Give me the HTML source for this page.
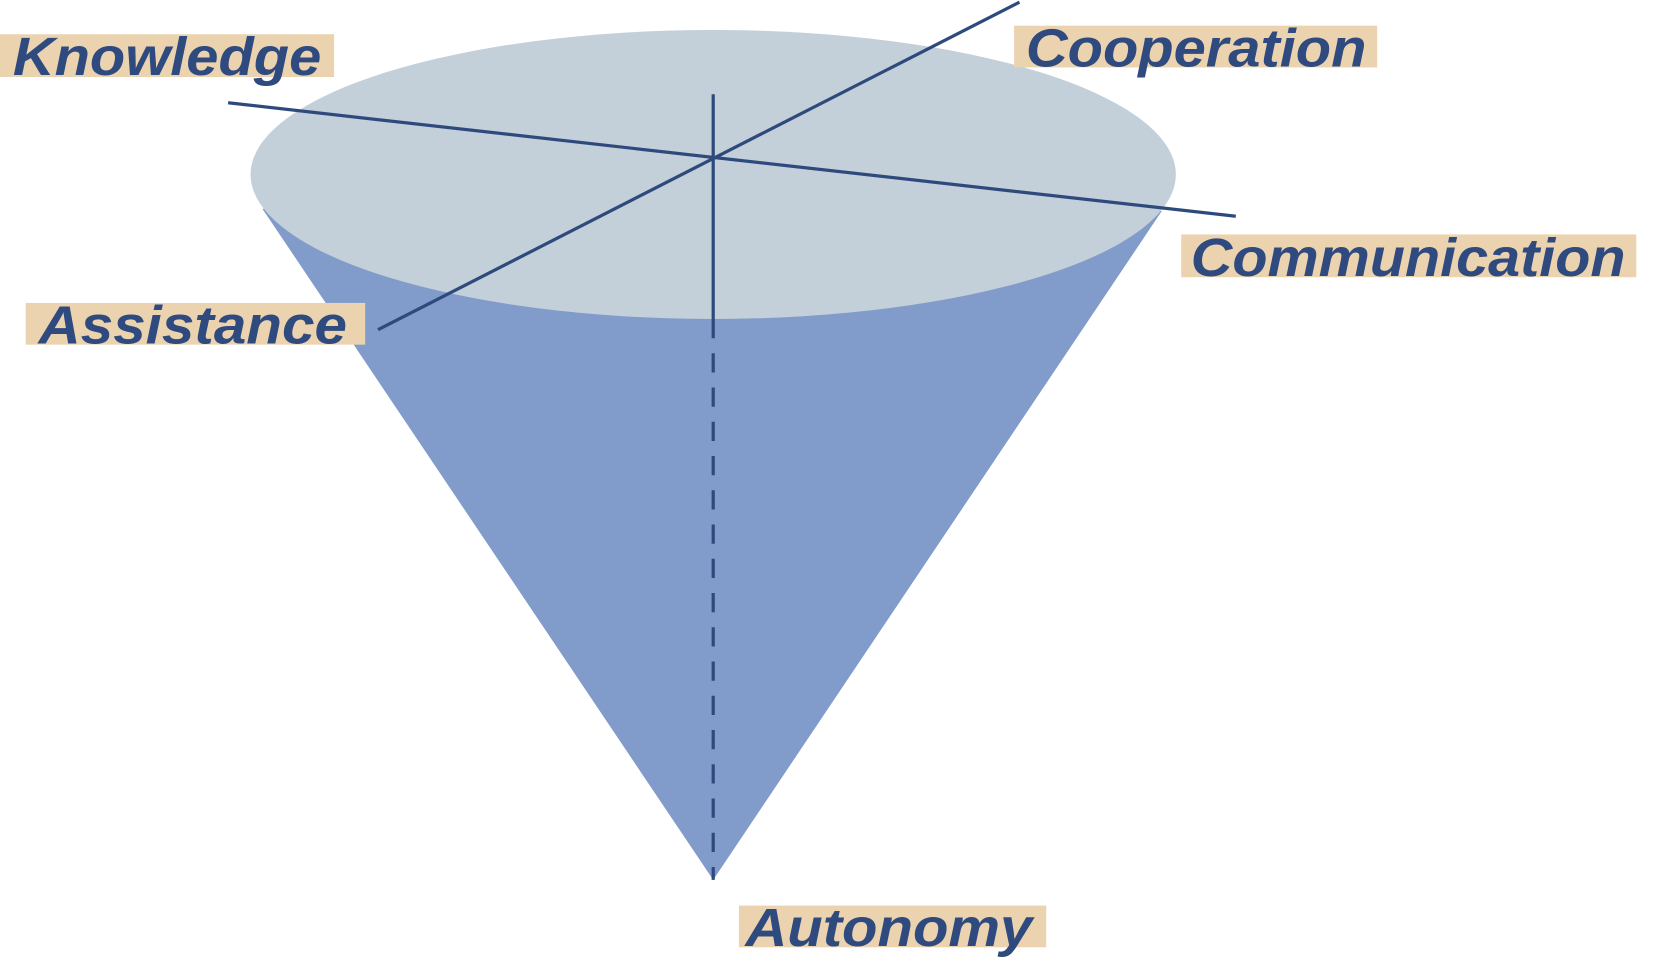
<!DOCTYPE html>
<html><head><meta charset="utf-8"><style>
html,body{margin:0;padding:0;background:#fff;width:1677px;height:973px;overflow:hidden}
svg{display:block}
text{font-family:"Liberation Sans",Arial,sans-serif;font-weight:bold;font-style:italic;fill:#2f4a7e;font-size:50px}
</style></head><body>
<svg width="1677" height="973" viewBox="0 0 1566 909" preserveAspectRatio="none" xmlns="http://www.w3.org/2000/svg">
<polygon points="245,195 666,822 1085,197" fill="#819cca"/>
<ellipse cx="666" cy="163" rx="432" ry="135" fill="#c3cfd9"/>
<line x1="666" y1="88" x2="666" y2="298" stroke="#2e4a7d" stroke-width="3"/>
<line x1="666" y1="298" x2="666" y2="822" stroke="#2e4a7d" stroke-width="3" stroke-dasharray="18,14"/>
<line x1="213" y1="96" x2="1154" y2="202" stroke="#2e4a7d" stroke-width="3"/>
<line x1="952" y1="2" x2="353" y2="308" stroke="#2e4a7d" stroke-width="3"/>
<rect x="0" y="32" width="312" height="40" fill="#ebd3b0"/>
<text x="12" y="70" textLength="288" lengthAdjust="spacingAndGlyphs">Knowledge</text>
<rect x="947" y="24" width="339" height="39" fill="#ebd3b0"/>
<text x="958" y="62" textLength="318" lengthAdjust="spacingAndGlyphs">Cooperation</text>
<rect x="1103" y="219" width="425" height="40" fill="#ebd3b0"/>
<text x="1112" y="258" textLength="406" lengthAdjust="spacingAndGlyphs">Communication</text>
<rect x="24" y="283" width="317" height="39" fill="#ebd3b0"/>
<text x="36" y="321" textLength="288" lengthAdjust="spacingAndGlyphs">Assistance</text>
<rect x="690" y="846" width="287" height="39" fill="#ebd3b0"/>
<text x="696" y="884" textLength="268" lengthAdjust="spacingAndGlyphs">Autonomy</text>
</svg>
</body></html>
